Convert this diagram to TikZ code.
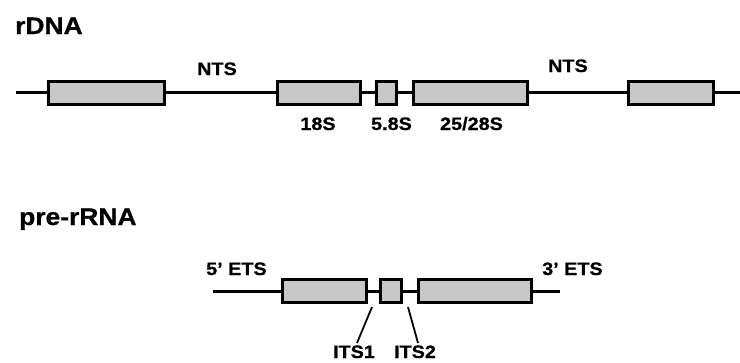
\documentclass[tikz,border=0pt]{standalone}
\usepackage{fontspec}
\setmainfont{Liberation Sans}[FakeStretch=1.1, BoldFeatures={FakeBold=0.8}]
\begin{document}
\begin{tikzpicture}[x=1pt,y=-1pt,
  seg/.style={line width=3pt},
  gene/.style={draw, line width=3pt, fill=black!22, inner sep=0pt,
    minimum height=23pt},
  title/.style={font=\bfseries\fontsize{24}{26}\selectfont, inner sep=0pt, anchor=base west},
  lab/.style={font=\bfseries\fontsize{18}{20}\selectfont, inner sep=0pt, anchor=base},
  labw/.style={lab, anchor=base west},
  tick/.style={line width=1.8pt}]
\useasboundingbox (0,0) rectangle (740,362);

% ---------- rDNA repeat ----------
\node[title] (tdna) at (15,34) {rDNA};
\coordinate (l0) at (16,92.5);
\coordinate (l1) at (742,92.5);
\node[gene, minimum width=116pt] (b1)  at (106.5,92.5) {};
\node[gene, minimum width=83pt]  (b18) at (319,92.5) {};
\node[gene, minimum width=20pt]  (b58) at (386.5,92.5) {};
\node[gene, minimum width=114pt] (b25) at (470.5,92.5) {};
\node[gene, minimum width=85pt]  (b5)  at (671,92.5) {};
\draw[seg] (l0) -- (b1.west);
\draw[seg] (b1.east) -- (b18.west);
\draw[seg] (b18.east) -- (b58.west);
\draw[seg] (b58.east) -- (b25.west);
\draw[seg] (b25.east) -- (b5.west);
\draw[seg] (b5.east) -- (l1);

\node[lab] (nts1) at (217,75) {NTS};
\node[lab] (nts2) at (568,72) {NTS};
\node[lab] (s18) at (318,130) {18S};
\node[lab] (s58) at (391.5,130) {5.8S};
\node[lab] (s25) at (471.5,130) {25/28S};

% ---------- pre-rRNA transcript ----------
\node[title] (tpre) at (19,225) {pre-rRNA};
\coordinate (m0) at (213,291);
\coordinate (m1) at (560,291);
\node[gene, minimum width=84pt]  (c1) at (324.5,291) {};
\node[gene, minimum width=21pt]  (c2) at (391,291) {};
\node[gene, minimum width=113pt] (c3) at (475,291) {};
\draw[seg] (m0) -- (c1.west);
\draw[seg] (c1.east) -- (c2.west);
\draw[seg] (c2.east) -- (c3.west);
\draw[seg] (c3.east) -- (m1);

\node[labw] (ets5) at (206,275) {5' ETS};
\node[labw] (ets3) at (542,275) {3' ETS};
\node[lab] (its1) at (354,358) {ITS1};
\node[lab] (its2) at (415,358) {ITS2};
\coordinate (p1) at (372,307);
\coordinate (q1) at (357,343);
\coordinate (p2) at (408,307);
\coordinate (q2) at (418,343);
\draw[tick] (p1) -- (q1);
\draw[tick] (p2) -- (q2);
\end{tikzpicture}
\end{document}
